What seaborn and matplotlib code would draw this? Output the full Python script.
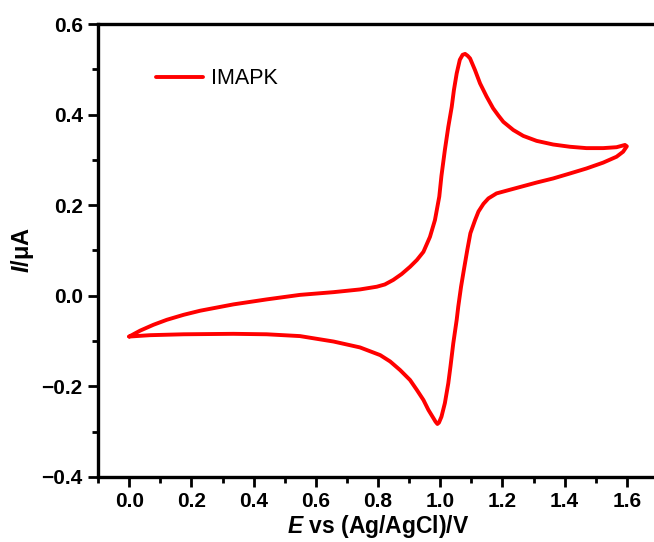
import matplotlib
matplotlib.use("Agg")
import matplotlib.pyplot as plt
from matplotlib.ticker import MultipleLocator
import pandas as pd
import seaborn as sns

# Cyclic voltammogram: forward (anodic) scan then reverse (cathodic) scan
forward_E = [0.000, 0.035, 0.078, 0.121, 0.175, 0.228, 0.335, 0.442, 0.549, 0.657,
             0.742, 0.796, 0.822, 0.849, 0.876, 0.903, 0.925, 0.946, 0.967, 0.983,
             0.997, 1.004, 1.015, 1.026, 1.037, 1.044, 1.053, 1.063, 1.072, 1.080,
             1.088, 1.096, 1.112, 1.128, 1.149, 1.170, 1.187, 1.203, 1.235, 1.267,
             1.310, 1.363, 1.417, 1.470, 1.524, 1.567, 1.594, 1.600]
forward_I = [-0.090, -0.077, -0.064, -0.053, -0.042, -0.033, -0.019, -0.008, 0.002, 0.008,
             0.014, 0.020, 0.025, 0.035, 0.048, 0.064, 0.079, 0.097, 0.130, 0.167,
             0.219, 0.265, 0.322, 0.373, 0.417, 0.454, 0.491, 0.521, 0.532, 0.534,
             0.530, 0.524, 0.498, 0.469, 0.440, 0.414, 0.398, 0.384, 0.366, 0.353,
             0.342, 0.334, 0.329, 0.326, 0.326, 0.328, 0.333, 0.330]
reverse_E = [1.588, 1.567, 1.524, 1.470, 1.417, 1.363, 1.310, 1.256, 1.213, 1.181,
             1.155, 1.139, 1.123, 1.112, 1.097, 1.087, 1.076, 1.067, 1.058, 1.053,
             1.042, 1.033, 1.026, 1.015, 1.004, 0.996, 0.991, 0.985, 0.978, 0.962,
             0.946, 0.925, 0.903, 0.871, 0.839, 0.807, 0.742, 0.657, 0.549, 0.442,
             0.335, 0.175, 0.067, 0.000]
reverse_I = [0.318, 0.307, 0.294, 0.281, 0.270, 0.259, 0.250, 0.240, 0.232, 0.226,
             0.215, 0.203, 0.186, 0.167, 0.138, 0.101, 0.057, 0.020, -0.024, -0.053,
             -0.105, -0.156, -0.193, -0.237, -0.267, -0.280, -0.283, -0.278, -0.270, -0.252,
             -0.230, -0.208, -0.186, -0.164, -0.145, -0.131, -0.114, -0.101, -0.089, -0.085,
             -0.084, -0.085, -0.087, -0.090]

x_ticks = [0.0, 0.2, 0.4, 0.6, 0.8, 1.0, 1.2, 1.4, 1.6]
y_ticks = [-0.4, -0.2, 0.0, 0.2, 0.4, 0.6]
series_name = "IMAPK"

df = pd.DataFrame({
    "E": forward_E + reverse_E,
    "I": forward_I + reverse_I,
    "sample": series_name,
})

sns.set_style("ticks")
plt.rcParams["font.family"] = ["Liberation Sans", "DejaVu Sans"]
plt.rcParams["mathtext.fontset"] = "custom"
plt.rcParams["mathtext.it"] = "Liberation Sans:italic:bold"
plt.rcParams["mathtext.rm"] = "Liberation Sans:bold"
for key in ["text.color", "axes.labelcolor", "xtick.color", "ytick.color", "axes.edgecolor"]:
    plt.rcParams[key] = "black"
plt.rcParams["lines.solid_joinstyle"] = "round"

fig = plt.figure(figsize=(6.54, 5.42), dpi=100)
ax = fig.add_axes([0.150, 0.120, 1.006 - 0.150, 0.9557 - 0.120])

sns.lineplot(data=df, x="E", y="I", hue="sample", palette=["#ff0000"],
             sort=False, estimator=None, linewidth=2.8, ax=ax)
for line in ax.get_lines():
    line.set_solid_joinstyle("round")
    line.set_solid_capstyle("round")

ax.set_xlim(-0.1, 1.7)
ax.set_ylim(-0.4, 0.6)
ax.set_xticks(x_ticks)
ax.set_yticks(y_ticks)
ax.set_xticklabels([f"{v:.1f}" for v in x_ticks])
ax.set_yticklabels([f"{v:.1f}".replace("-", "\u2212") for v in y_ticks])
ax.xaxis.set_minor_locator(MultipleLocator(0.1))
ax.yaxis.set_minor_locator(MultipleLocator(0.1))

for side in ["left", "bottom", "top"]:
    ax.spines[side].set_linewidth(2.4)
    ax.spines[side].set_color("black")
ax.spines["right"].set_visible(False)

ax.tick_params(axis="both", which="major", direction="out", length=7, width=2.0,
               labelsize=15, pad=4, colors="black")
ax.tick_params(axis="both", which="minor", direction="out", length=4, width=2.0)
for lab in ax.get_xticklabels() + ax.get_yticklabels():
    lab.set_fontweight("bold")

ax.set_xlabel(r"$E$ vs (Ag/AgCl)/V", fontsize=16.5, fontweight="bold", labelpad=1)
ax.set_ylabel(r"$I$/μA", fontsize=17, fontweight="bold", labelpad=4)

leg = ax.legend(loc="center left", bbox_to_anchor=(0.1036, 0.879), frameon=False,
                fontsize=15.5, handlelength=2.2, handletextpad=0.33, borderpad=0,
                borderaxespad=0)
for line in leg.get_lines():
    line.set_linewidth(2.8)

fig.savefig("out.png", dpi=100)
